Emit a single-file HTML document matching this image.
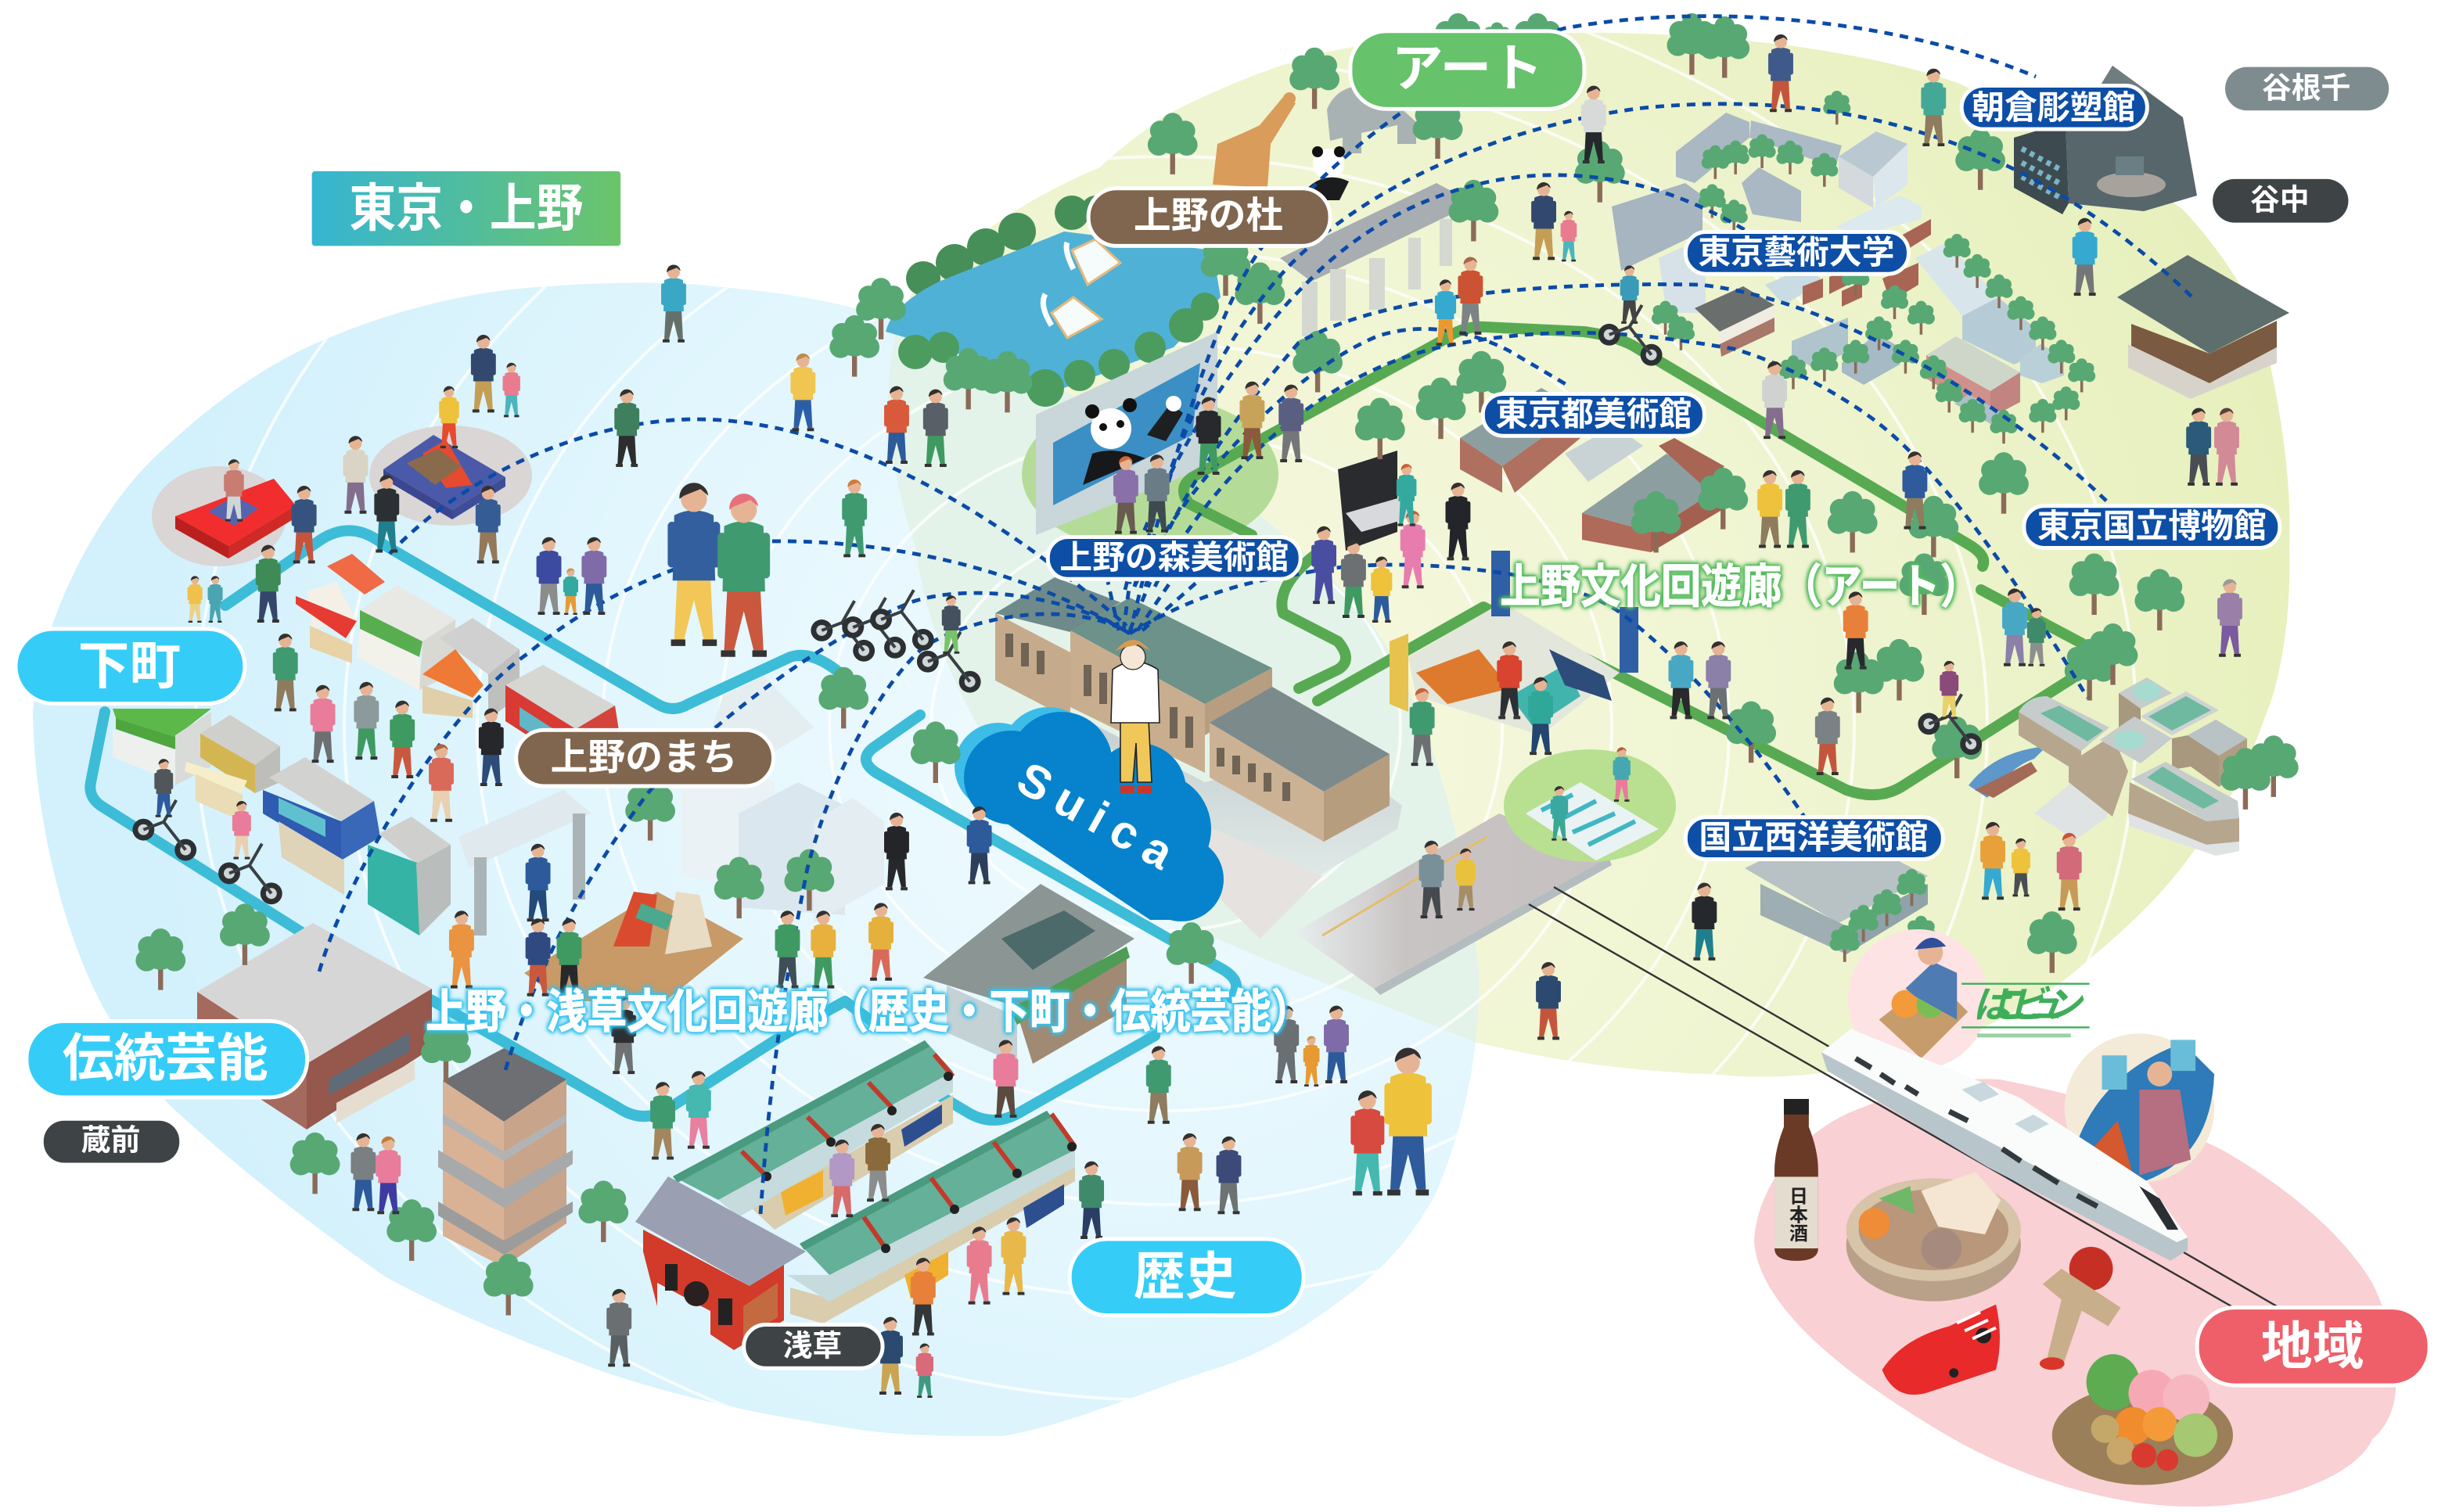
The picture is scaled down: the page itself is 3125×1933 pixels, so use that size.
<!DOCTYPE html>
<html lang="ja"><head><meta charset="utf-8"><title>東京・上野</title>
<style>
html,body{margin:0;padding:0;background:#fff;width:3125px;height:1933px;overflow:hidden}
svg{display:block}
text{font-family:"Liberation Sans","Noto Sans CJK JP",sans-serif;font-weight:700;text-anchor:middle;dominant-baseline:central;fill:#fff}
.dash{fill:none;stroke:#0b4ba8;stroke-width:2.4;stroke-dasharray:5.5 4.5}
.rt{fill:none;stroke:#3dbcd8;stroke-width:7;stroke-linejoin:round;stroke-linecap:round}
.gr{fill:none;stroke:#58aa52;stroke-width:7;stroke-linejoin:round;stroke-linecap:round}
.pill{stroke:#fff;stroke-width:2.5}
.arc{fill:none;stroke:#fff;stroke-width:2;opacity:.75}
.pb{fill:var(--b)}.pl{fill:var(--l)}.ph{fill:var(--h,#33312f)}
</style></head><body>
<svg xmlns="http://www.w3.org/2000/svg" width="3125" height="1933" viewBox="0 0 1562.5 966.5">
<defs>
<linearGradient id="tg" x1="0" x2="1"><stop offset="0" stop-color="#35b5d2"/><stop offset="1" stop-color="#6cc46a"/></linearGradient>
<radialGradient id="bg" gradientUnits="userSpaceOnUse" cx="720" cy="480" r="620"><stop offset="0" stop-color="#f0fbfe"/><stop offset=".55" stop-color="#e2f6fd"/><stop offset="1" stop-color="#d3f1fc"/></radialGradient>
<radialGradient id="gg" gradientUnits="userSpaceOnUse" cx="800" cy="470" r="680"><stop offset="0" stop-color="#f6f8df"/><stop offset=".6" stop-color="#eef4cf"/><stop offset="1" stop-color="#e7f0bd"/></radialGradient>
<linearGradient id="wk" x1="0" x2="1" y1="0" y2="0"><stop offset="0" stop-color="#e8eeee"/><stop offset=".35" stop-color="#c9c4c4"/><stop offset="1" stop-color="#c6c0c0"/></linearGradient>
<linearGradient id="stn" x1="0" x2="0" y1="0" y2="1"><stop offset="0" stop-color="#bfc7cb"/><stop offset="1" stop-color="#e4eeea"/></linearGradient>
<path id="blueP" d="M21,456C25,400 60,330 98,293C135,258 170,232 210,216C260,195 310,185 351,183C390,180 430,180 456,183C490,186 520,190 550,198C650,225 790,300 870,390C910,440 935,530 945,620C947,680 930,735 917,764C900,795 880,815 853,834C825,855 800,868 773,876C730,890 680,912 640,918C610,918 580,918 550,914C490,905 440,895 386,877C340,860 290,840 246,816C195,780 150,745 109,707C92,690 80,670 70,651C40,600 22,520 21,456Z"/>
<path id="greenP" d="M582,189C620,150 660,125 703,107C715,95 730,85 741,76C770,60 800,48 830,38C870,25 950,21 1000,21C1050,20 1100,24 1143,29C1185,35 1220,42 1251,53C1300,75 1350,100 1395,134C1415,155 1432,180 1445,207C1455,250 1465,300 1463,351C1464,385 1460,420 1452,446C1445,465 1438,485 1430,500C1420,520 1405,540 1393,556C1370,585 1345,605 1321,625C1280,655 1240,670 1200,680C1160,688 1130,690 1099,687C1050,685 1000,680 942,666C880,640 820,620 767,595C710,560 660,520 630,473C605,430 590,390 585,350C565,290 560,230 582,189Z"/>
<clipPath id="cb"><use href="#blueP"/></clipPath>
<clipPath id="cu"><use href="#blueP"/><use href="#greenP"/></clipPath>
<g id="t"><rect x="-1.6" y="-20" width="3.2" height="20" fill="#8a6b58"/><g fill="#58a874"><circle cx="0" cy="-24" r="11"/><circle cx="-9" cy="-19" r="7"/><circle cx="9" cy="-19" r="7"/><circle cx="0" cy="-33" r="6.5"/><circle cx="-8" cy="-28" r="6.5"/><circle cx="8" cy="-28" r="6.5"/></g></g>
<g id="p"><path class="pl" d="M-5,-22L5,-22L6,-2L3,-2L0,-14L-3,-2L-6,-2Z"/><path class="pb" d="M-6,-40Q0,-43 6,-40L6.5,-20L-6.5,-20Z"/><rect x="-8" y="-38" width="2.6" height="14" rx="1.3" class="pb"/><rect x="5.4" y="-38" width="2.6" height="14" rx="1.3" class="pb"/><circle cx="0" cy="-45" r="4" fill="#e6b494"/><path class="ph" d="M-4.4,-45A4.4,4.4 0 0 1 4.4,-46L2,-48L-3,-46Z"/><path d="M-7,0h4.4v-2h-4.4zM2.6,0h4.4v-2h-4.4z" fill="#333"/></g>
<g id="bike"><circle cx="-13" cy="-7" r="7" fill="#2d3033"/><circle cx="-13" cy="-7" r="3.5" fill="#cfd6d8"/><circle cx="14" cy="6" r="7" fill="#2d3033"/><circle cx="14" cy="6" r="3.5" fill="#cfd6d8"/><path d="M-13,-7L0,-12L14,6M0,-12L8,-26" stroke="#3a3f44" stroke-width="2" fill="none"/></g>
</defs>

<!-- base areas -->
<path d="M1121,794C1122,760 1150,722 1190,708C1220,695 1250,688 1278,690C1330,700 1380,715 1420,735C1455,755 1495,785 1516,820C1528,845 1534,870 1531,888C1530,905 1522,915 1516,920C1505,945 1450,964 1400,963C1350,963 1290,945 1240,915C1190,885 1125,840 1121,794Z" fill="#f9d0d4"/>
<use href="#greenP" fill="url(#gg)"/>
<use href="#blueP" fill="url(#bg)"/>
<g clip-path="url(#cb)"><use href="#greenP" fill="#e3f3ea"/></g>
<g clip-path="url(#cu)">
<ellipse class="arc" cx="745" cy="465" rx="150" ry="130"/><ellipse class="arc" cx="745" cy="465" rx="215" ry="190"/><ellipse class="arc" cx="745" cy="465" rx="285" ry="245"/><ellipse class="arc" cx="745" cy="465" rx="360" ry="305"/><ellipse class="arc" cx="745" cy="465" rx="440" ry="365"/><ellipse class="arc" cx="745" cy="465" rx="525" ry="430"/><ellipse class="arc" cx="745" cy="462" rx="620" ry="490"/>
</g>

<!-- pond & hedges -->
<g fill="#468f58"><circle cx="590" cy="178" r="11"/><circle cx="610" cy="168" r="12"/><circle cx="630" cy="158" r="12"/><circle cx="650" cy="148" r="12"/><circle cx="685" cy="136" r="11"/><circle cx="700" cy="134" r="9"/></g>
<path d="M566,212Q570,195 600,180L680,148L775,160L780,190L750,222L680,248L640,235L600,222Z" fill="#50b1d6"/>
<g fill="#4c9c60"><circle cx="585" cy="225" r="11"/><circle cx="603" cy="222" r="10"/><circle cx="668" cy="248" r="12"/><circle cx="690" cy="240" r="10"/><circle cx="712" cy="233" r="10"/><circle cx="735" cy="222" r="10"/><circle cx="758" cy="208" r="11"/><circle cx="770" cy="196" r="9"/></g>
<ellipse cx="735" cy="303" rx="82" ry="50" fill="#b4dc98"/>
<path d="M662,265L778,212L778,296L662,342Z" fill="#c9d6da"/>
<path d="M673,283L767,232L762,278L673,323Z" fill="#3b8fc4"/>
<path d="M692,310L698,290Q712,285 732,293Z" fill="#17181a"/><circle cx="710" cy="274" r="13" fill="#fff"/><circle cx="698" cy="263" r="4.5" fill="#111"/><circle cx="722" cy="259" r="4.5" fill="#111"/><circle cx="705" cy="273" r="2.5" fill="#111"/><circle cx="716" cy="271" r="2.5" fill="#111"/>
<path d="M733,278L748,258L756,264L745,282Z" fill="#1d1f20"/><circle cx="750" cy="258" r="5" fill="#fff"/>
<!-- swans -->
<path d="M685,160L700,153L716,168L695,182Z" fill="#f6fbfb" stroke="#e5b97a" stroke-width="1.5"/><path d="M672,200L686,190L704,204L682,216Z" fill="#f6fbfb" stroke="#e5b97a" stroke-width="1.5"/>
<path d="M686,172Q680,160 682,155" stroke="#fff" stroke-width="3.5" fill="none"/><path d="M672,208Q664,195 668,188" stroke="#fff" stroke-width="3.5" fill="none"/>

<!-- routes -->
<path class="rt" d="M144,387L205,345Q225,332 245,348L420,450Q430,456 440,450L505,420Q520,415 540,433"/>
<path class="rt" d="M588,457L558,478Q548,486 560,494L782,620Q795,628 787,638"/>
<path class="rt" d="M738,662L650,712Q635,720 620,712L600,700"/>
<path class="rt" d="M67,455L58,500Q56,510 66,516L196,598L277,640L395,708Q410,718 425,710L500,662L540,640L560,655"/>
<path class="gr" d="M800,342L760,322Q752,312 762,305L923,217Q935,208 949,209L1012,212Q1035,215 1047,223L1258,348Q1270,355 1267,362"/>
<path class="gr" d="M1266,377L1330,411Q1342,420 1330,430L1215,503Q1200,512 1180,505L948,388L842,448"/>
<path class="gr" d="M840,355Q815,375 820,392L855,410Q865,422 855,428L830,440"/>

<!-- left shops row 1 -->
<path d="M209,362L225,354L246,372L233,380Z" fill="#ef6a45"/><path d="M196,378L215,372L228,397L200,402Z" fill="#f4f0e6"/><path d="M189,381L228,397L221,408L189,386Z" fill="#e63a33"/><path d="M198,400L225,412V424L198,414Z" fill="#e8d2a6"/>
<path d="M230,390L254,374L291,396L270,410Z" fill="#e8e8e5"/><path d="M230,390L270,410L268,420L230,402Z" fill="#58ae4f"/><path d="M230,402L268,420V441L228,420Z" fill="#f3f2ea"/><path d="M270,410L291,396V430L268,441Z" fill="#d9d9d4"/>
<path d="M281,408L302,395L332,415L312,431Z" fill="#cfd0cf"/><path d="M270,431L291,415L309,438L302,446Z" fill="#ef7a36"/><path d="M270,438L302,448V459L270,456Z" fill="#e0cfa8"/><path d="M312,431L332,415V445L312,460Z" fill="#bfbfbd"/>
<path d="M323,438L347,425L393,451L368,466Z" fill="#d6d6d3"/><path d="M323,438L368,466V490L323,461Z" fill="#d93a33"/><path d="M332,452L360,470V482L332,464Z" fill="#60b7c8"/><path d="M368,466L393,451L396,470L368,490Z" fill="#d3443a"/>
<!-- left shops row 2 -->
<path d="M72,453H135L112,471L74,459Z" fill="#5db84a"/><path d="M74,459L112,471V479L74,466Z" fill="#4fa63f"/><path d="M72,466L112,479V500L72,484Z" fill="#eef0ee"/><path d="M112,470L135,455V490L112,502Z" fill="#d8dbd8"/>
<path d="M128,469L147,457L179,477L163,489Z" fill="#cfcfcb"/><path d="M128,469L163,489V507L128,484Z" fill="#d3b552"/><path d="M119,487L158,499L154,507L118,493Z" fill="#f5eecb"/><path d="M125,495L155,508V525L125,512Z" fill="#eadcb4"/><path d="M163,489L179,477V500L163,507Z" fill="#bdbdb9"/>
<path d="M172,497L195,484L239,512L218,525Z" fill="#d2d3d1"/><path d="M168,505L218,525V550L168,520Z" fill="#2f5bb0"/><path d="M178,510L208,524V535L178,520Z" fill="#5fc0cf"/><path d="M218,525L239,512L243,535L218,550Z" fill="#3a68b8"/><path d="M178,525L220,550V572L180,548Z" fill="#dfd3b8"/>
<path d="M242,533L263,522L288,540L266,552Z" fill="#cfd0cd"/><path d="M235,540L268,552V598L235,578Z" fill="#35b3a5"/><path d="M266,552L288,540V578L268,598Z" fill="#b9bdbb"/>
<!-- stages -->
<ellipse cx="140" cy="330" rx="43" ry="32" fill="#dad6d6"/>
<path d="M112,330L175,306L189,323L146,349Z" fill="#f22d2d"/><path d="M112,330L146,349V357L112,338Z" fill="#b9201e"/><path d="M146,349L189,323V331L146,357Z" fill="#cf2a26"/><path d="M133,327L150,317L165,325L150,336Z" fill="#5664ad"/>
<ellipse cx="288" cy="304" rx="52" ry="32" fill="#dad6d6"/>
<path d="M245,300L277,278L323,305L289,326Z" fill="#4a5aa8"/><path d="M245,300L289,326V332L245,306Z" fill="#3a4790"/><path d="M289,326L323,305V311L289,332Z" fill="#3f4d98"/>
<path d="M270,290L285,281L302,310L285,312Z" fill="#e64a2f"/><path d="M260,296L280,287L295,298L278,310Z" fill="#8a6a4d"/>

<!-- gate -->
<path d="M293,535L360,505L378,520L300,555Z" fill="#dfe9ee"/><rect x="366" y="520" width="8" height="55" fill="#aab4b6"/><rect x="303" y="548" width="8" height="50" fill="#aab4b6"/>
<!-- offices -->
<path d="M435,505L465,485L495,500V570L435,560Z" fill="#eaf2f6"/>
<path d="M472,520L510,500L540,515V585L472,580Z" fill="#dbe7ee"/><path d="M520,525L545,510L565,525V565L520,590Z" fill="#e3edf2"/>
<path d="M462,445L488,432L520,465L480,490L455,465Z" fill="#e4eef0"/>
<!-- Noh stage -->
<path d="M335,622L420,570L475,600L425,640L360,640Z" fill="#c79a68"/><path d="M392,605L405,570L420,572L415,605Z" fill="#d94b2c"/><path d="M425,610L432,570L447,572L455,605Z" fill="#e9dcc5"/><path d="M408,582L428,590" stroke="#4aa98f" stroke-width="10"/>
<!-- Traditional shrine -->
<path d="M590,625L665,565L725,600L655,645Z" fill="#8b9694"/><path d="M640,600L680,582L700,595L660,620Z" fill="#4d6a6a"/><path d="M605,630L650,650V680L605,660Z" fill="#c4d2d6"/><path d="M650,648L720,605V645L660,680Z" fill="#a08a74"/><path d="M645,645L720,605L722,612L650,655Z" fill="#4f9c55"/>
<!-- Kuramae museum -->
<path d="M126,634L200,590L276,632L196,680Z" fill="#d6d6d6"/><path d="M126,634L196,680V722L126,676Z" fill="#a46a5d"/><path d="M196,680L276,632V670L196,722Z" fill="#96574c"/><path d="M210,690L262,660V672L210,700Z" fill="#5f6c78"/><path d="M215,705L265,678V690L215,718Z" fill="#e5ded0"/>
<!-- tower -->
<path d="M283,691L322,670L362,690L322,717Z" fill="#6e6f72"/><path d="M283,691L322,717V810L283,790Z" fill="#d9b296"/><path d="M322,717L362,690V782L322,810Z" fill="#c8a48b"/>
<path d="M280,735L322,760L366,735V744L322,772L280,746Z" fill="#a8a9aa"/><path d="M280,768L322,793L366,768V775L322,802L280,777Z" fill="#9c9c9d"/><path d="M283,712L322,736L362,712V717L322,742L283,718Z" fill="#b3b3b4"/>
<!-- Nakamise row 1 -->
<path d="M480,772L609,700V718L495,786Z" fill="#d9cdae"/><path d="M499,762L526,748V765L502,777Z" fill="#f0b030"/><path d="M576,722L602,706V718L578,733Z" fill="#2e4f8f"/>
<path d="M459,767L609,685V698L472,778Z" fill="#c5dbde"/>
<path d="M430,752L591,665L609,685L459,767Z" fill="#64b098"/><path d="M430,752L591,665L594,669L433,756Z" fill="#4a9a7f"/>
<path d="M474,736L490,752M516,714L532,730M555,692L570,708M597,674L609,688" stroke="#c23a2c" stroke-width="3" fill="none"/><circle cx="490" cy="752" r="3" fill="#222"/><circle cx="531" cy="730" r="3" fill="#222"/><circle cx="570" cy="710" r="3" fill="#222"/><circle cx="606" cy="688" r="3" fill="#222"/>
<!-- Nakamise row 2 -->
<path d="M505,823L530,830L687,745V755L526,846L505,840Z" fill="#d9cdae"/><path d="M578,815L606,800V815L582,830Z" fill="#f0b030"/><path d="M654,772L680,757V770L656,785Z" fill="#2e4f8f"/>
<path d="M503,815L530,815L687,735V746L530,832Z" fill="#c5dbde"/>
<path d="M511,795L669,710L687,735L530,815Z" fill="#64b098"/><path d="M511,795L669,710L672,714L514,799Z" fill="#4a9a7f"/>
<path d="M552,778L566,798M595,753L610,773M635,730L650,750M672,712L687,733" stroke="#c23a2c" stroke-width="3" fill="none"/><circle cx="566" cy="798" r="3" fill="#222"/><circle cx="610" cy="773" r="3" fill="#222"/><circle cx="650" cy="750" r="3" fill="#222"/><circle cx="685" cy="733" r="3" fill="#222"/>
<!-- Kaminarimon -->
<path d="M411,786L479,822L501,797V844L469,863L454,853V838L420,820V835L411,800Z" fill="#d23a2a"/><path d="M475,835L497,820V842L475,855Z" fill="#c46a40"/><rect x="425" y="808" width="8" height="17" fill="#222"/><rect x="459" y="830" width="9" height="17" fill="#222"/><circle cx="445" cy="827" r="8" fill="#2a2020"/>
<path d="M406,781L427,752L515,800L479,822Z" fill="#9aa0b2"/>

<!-- station base -->
<path d="M636,430L700,470L764,525L805,582L893,530L896,515L850,480L770,500Z" fill="url(#stn)"/>
<path d="M764,525L845,560L805,600L775,570Z" fill="#e6e2df"/>
<path d="M636,392L684,417V460L636,435Z" fill="#c5ab8c"/><path d="M636,392L674,369L716,385L684,404Z" fill="#6e8a8a"/>
<path d="M684,403L722,382L813,427L770,450Z" fill="#6d928a"/><path d="M684,403L770,450V494L684,452Z" fill="#c8ae8f"/><path d="M770,450L813,427V445L770,470Z" fill="#b89e80"/>
<path d="M773,462L813,439L888,482L846,506Z" fill="#7c8a8c"/><path d="M773,462L846,506V538L773,497Z" fill="#ccb294"/><path d="M846,506L888,482V515L846,538Z" fill="#b59d7e"/>
<path d="M645,405V420M655,411V426M665,416V431M780,478V490M790,483V495M800,488V500M810,494V506M822,500V512M695,425V445M705,430V450M715,435V455M750,452V472M760,458V478" stroke="#6f6455" stroke-width="5"/>
<!-- walkway -->
<path d="M827,596L958,520L1028,548L878,632Z" fill="url(#wk)"/>
<path d="M845,598L950,535" stroke="#e3be6a" stroke-width="1.5"/><path d="M878,632L1028,548L1030,553L882,636Z" fill="#b4bcc0"/>
<!-- rail lines -->
<path d="M993,567L1455,835M977,578L1426,835" stroke="#333" stroke-width="1.2" fill="none"/>

<!-- Suica cloud -->
<g fill="#3dbce8"><circle cx="638" cy="490" r="28"/><circle cx="670" cy="482" r="30"/></g>
<g fill="#0683cc"><circle cx="646" cy="497" r="30"/><circle cx="678" cy="488" r="33"/><circle cx="728" cy="505" r="30"/><circle cx="738" cy="530" r="36"/><circle cx="755" cy="562" r="27"/><path d="M622,512L700,470L770,560L760,588L735,588Z"/></g>
<text x="703" y="523" font-size="30" letter-spacing="7" transform="rotate(29 703 523)" style="font-family:'Liberation Sans',sans-serif">Suica</text>
<!-- character -->
<path d="M716,460L734,460L736,500L727,500L726,475L724,500L716,500Z" fill="#f0c85a" stroke="#222" stroke-width=".8"/>
<path d="M711,428Q725,418 740,428L741,462L710,462Z" fill="#fff" stroke="#222" stroke-width=".8"/>
<circle cx="724" cy="420" r="8" fill="#f6e6d6" stroke="#222" stroke-width=".6"/><path d="M713,416Q724,402 735,416L728,412L718,414Z" fill="#d99a55"/>
<path d="M716,502h9v5h-9zM727,502h9v5h-9z" fill="#c8372d"/>

<!-- Top right: animals & gate -->
<path d="M775,118L778,92Q795,85 805,80L820,62L828,66L812,92L810,120Z" fill="#d99c5a"/><circle cx="824" cy="63" r="4" fill="#d99c5a"/>
<path d="M848,70Q855,52 880,55L905,78V92H893V80L870,85V98H858V88L850,90Z" fill="#a9b2b3"/>
<circle cx="849" cy="105" r="10" fill="#fff"/><path d="M832,124Q845,108 862,116L856,128H838Z" fill="#1b1c1d"/><circle cx="842" cy="97" r="3.5" fill="#111"/><circle cx="856" cy="97" r="3.5" fill="#111"/>
<path d="M818,165L918,117L942,130L838,180Z" fill="#a8adb2"/><path d="M832,180H842V215H832ZM850,172H860V205H850ZM875,165H885V198H875ZM900,152H908V185H900ZM920,140H928V170H920Z" fill="#d4d8d0"/>
<!-- Geidai cluster -->
<path d="M1071,97L1103,72L1118,78V88L1083,117L1071,113Z" fill="#a9b8c3"/>
<path d="M1119,77L1177,93L1173,107L1118,88Z" fill="#abbac5"/>
<path d="M1175,100L1199,84L1219,92L1197,113Z" fill="#bac8d1"/><path d="M1175,100L1197,113V133L1175,120Z" fill="#d3d9dc"/><path d="M1197,113L1219,92V118L1199,133Z" fill="#dbe7ed"/>
<path d="M1113,117L1124,107L1151,122V142L1120,137Z" fill="#a9b8c3"/>
<path d="M1030,132L1077,117L1088,125V148L1036,173Z" fill="#a6b5bf"/>
<path d="M1173,145L1214,125L1228,132V140L1189,150Z" fill="#dce9ef"/>
<path d="M1216,150L1234,140V150L1218,160Z" fill="#a86554"/>
<path d="M1060,165L1075,158L1090,175V200L1065,200Z" fill="#d7e2e8"/>
<path d="M1083,197L1114,183L1134,195L1099,212Z" fill="#6a6f6e"/><path d="M1099,212L1134,195V203L1099,220Z" fill="#efece2"/><path d="M1099,220L1134,203V212L1100,228Z" fill="#a9786a"/>
<path d="M1128,182L1156,170L1165,180L1140,195Z" fill="#c9dbe3"/>
<path d="M1152,183L1165,178V190L1152,195ZM1169,177L1185,170V180L1169,188ZM1177,186L1190,180V190L1177,196ZM1203,178L1226,168V182L1208,193Z" fill="#a86554"/>
<path d="M1224,165L1244,155L1277,190L1254,202Z" fill="#d8e6ec"/><path d="M1254,202L1277,190L1301,210V227L1287,233L1254,217Z" fill="#b5ccd7"/>
<path d="M1291,229L1304,220L1319,228V240L1305,245L1291,240Z" fill="#b9d0d9"/>
<path d="M1231,227L1250,215L1291,238L1272,250Z" fill="#cdd6c8"/><path d="M1231,227L1272,250V267L1231,242Z" fill="#d0918c"/><path d="M1272,250L1291,238V257L1272,267Z" fill="#c28480"/>
<path d="M1249,258L1258,252L1282,265L1274,272Z" fill="#adbfc8"/>
<path d="M1145,218L1181,203V225L1159,235L1145,228Z" fill="#b0c4cd"/><path d="M1177,232L1199,213L1214,222V233L1191,246L1177,238Z" fill="#a5bac4"/>
<!-- Asakura -->
<path d="M1287,88L1320,78L1322,130L1318,137L1287,120Z" fill="#3d4b50"/><path d="M1320,78L1339,60L1350,42L1395,75L1404,125L1370,135L1322,130Z" fill="#56666a"/><path d="M1339,60L1350,42L1372,58L1350,70Z" fill="#6f7d7e"/><path d="M1292,95L1316,108M1292,104L1316,117M1292,113L1316,126" stroke="#7ab4c6" stroke-width="3.5" stroke-dasharray="3 3"/><ellipse cx="1362" cy="118" rx="22" ry="8" fill="#a7a39c"/><path d="M1352,100h18v12h-18z" fill="#6a7f84"/>
<!-- Hall -->
<path d="M1353,190L1398,163L1463,200L1412,226Z" fill="#5e6e6d"/><path d="M1362,207L1412,226L1455,205V222L1412,245L1362,222Z" fill="#7b5a42"/><path d="M1360,220L1412,245L1455,222V232L1400,255L1360,235Z" fill="#d8d3ca"/>
<!-- Tobikan -->
<path d="M933,280L985,248L1010,262L960,298Z" fill="#8d9ea0"/><path d="M933,280L960,298V315L933,300Z" fill="#b0705f"/><path d="M960,298L1010,262V280L968,315Z" fill="#b0705f"/>
<path d="M1011,328L1065,290L1102,310L1055,340Z" fill="#8d9ea0"/><path d="M1011,328L1055,340V353L1011,345Z" fill="#b06a5a"/><path d="M1055,340L1102,310V325L1055,353Z" fill="#a4604f"/><path d="M1060,285L1070,280L1102,298L1090,312Z" fill="#a86554"/>
<path d="M1000,290L1032,272L1050,285L1015,308Z" fill="#c9d3d6"/>
<!-- National Museum -->
<path d="M1258,502Q1275,480 1308,477L1300,485Q1285,490 1270,510Z" fill="#5e97c9"/><path d="M1262,505L1298,487L1302,493L1274,510Z" fill="#a36a58"/>
<path d="M1300,520L1324,500L1348,513L1346,523L1326,537Z" fill="#dfe3e4"/>
<path d="M1290,455Q1296,445 1308,445L1348,465L1330,480L1290,465Z" fill="#c6cccc"/><path d="M1290,455V470L1330,495V480Z" fill="#b7a68e"/><path d="M1304,456L1316,451L1344,467L1334,474Z" fill="#6fb9a0"/>
<path d="M1322,488L1350,470L1360,493L1350,522L1322,500Z" fill="#b7a68e"/>
<path d="M1354,443L1372,433L1388,443L1368,453Z" fill="#c6cccc"/><path d="M1354,443V465L1368,465V453Z" fill="#a8987e"/><ellipse cx="1372" cy="442" rx="9" ry="6" fill="#a6dccf"/>
<path d="M1342,473L1364,458L1388,472L1368,488Z" fill="#c6cccc"/><ellipse cx="1361" cy="473" rx="10" ry="6" fill="#a6dccf"/>
<path d="M1368,458L1397,442L1418,454L1388,470Z" fill="#cdd2d2"/><path d="M1373,458L1397,445L1413,454L1388,467Z" fill="#6fb9a0"/>
<path d="M1388,472L1398,470L1418,483V503L1400,490L1388,492Z" fill="#a8987e"/><path d="M1398,470L1416,460L1436,472L1418,483Z" fill="#b9c2c4"/><path d="M1418,483L1436,472V492L1418,503Z" fill="#b09e84"/>
<path d="M1362,498L1384,487L1430,512L1431,523L1410,525Z" fill="#c6cccc"/><path d="M1372,497L1382,490L1418,512L1408,517Z" fill="#6fb9a0"/><path d="M1361,500L1410,525L1431,523V538L1410,540L1360,520Z" fill="#b7a68e"/><path d="M1360,520L1410,540L1431,538V544L1416,547L1361,528Z" fill="#dfe3e4"/>
<!-- Western Art -->
<path d="M1115,555L1170,528L1232,560L1175,590Z" fill="#b8c1c4"/><path d="M1125,565L1180,592V610L1125,585Z" fill="#9eaeb2"/><path d="M1180,592L1232,565V578L1180,610Z" fill="#8fa3a8"/>

<!-- piano -->
<path d="M855,300L893,288V340L860,352Z" fill="#2a2b2e"/><path d="M860,328L895,318L905,330L870,340Z" fill="#d7d9dc"/>
<!-- market -->
<path d="M900,420L960,385L1035,430L985,470L905,445Z" fill="#e3e6da"/><path d="M905,430L945,415L965,440L925,450Z" fill="#dd7a2e"/><path d="M965,445L1000,425L1010,445L980,465Z" fill="#42b4ae"/><path d="M990,415L1025,432L1030,448L1000,438Z" fill="#2e4c7a"/><path d="M888,410L900,405V455L888,450Z" fill="#e7c24e"/><rect x="953" y="352" width="12" height="42" fill="#2f5fa5"/><rect x="1035" y="388" width="12" height="42" fill="#2f5fa5"/>
<!-- picnic -->
<ellipse cx="1016" cy="515" rx="55" ry="36" fill="#b8e090"/><path d="M975,520L1010,500L1060,530L1020,550Z" fill="#e9f3f4"/><path d="M985,518L1005,508M995,525L1020,512M1005,532L1032,520M1015,540L1045,525" stroke="#41b6c4" stroke-width="3"/>

<!-- overlay trees behind dashes -->
<g transform="scale(.9965,.995)">
<use href="#t" x="935" y="48"/><use href="#t" transform="translate(960,38) scale(.6)"/><use href="#t" x="986" y="48"/>
<use href="#t" x="103" y="636"/><use href="#t" x="157" y="620"/><use href="#t" x="202" y="767"/><use href="#t" x="264" y="810"/><use href="#t" x="326" y="845"/><use href="#t" x="387" y="798"/><use href="#t" x="286" y="695"/>
<use href="#t" x="417" y="540"/><use href="#t" x="474" y="590"/><use href="#t" x="519" y="585"/><use href="#t" x="541" y="468"/><use href="#t" x="600" y="503"/><use href="#t" x="764" y="632"/>
<use href="#t" x="548" y="242"/><use href="#t" x="565" y="218"/><use href="#t" x="621" y="263"/><use href="#t" x="646" y="265"/>
<use href="#t" x="843" y="70"/><use href="#t" x="752" y="112"/><use href="#t" x="922" y="102"/><use href="#t" x="786" y="190"/><use href="#t" x="808" y="208"/><use href="#t" x="845" y="252"/><use href="#t" x="945" y="155"/>
<use href="#t" x="924" y="282"/><use href="#t" x="950" y="265"/><use href="#t" x="885" y="295"/><use href="#t" x="1085" y="48"/><use href="#t" x="1106" y="50"/><use href="#t" x="1026" y="130"/>
<use href="#t" x="1270" y="122"/><use href="#t" x="1285" y="330"/><use href="#t" x="1343" y="395"/><use href="#t" x="1385" y="405"/><use href="#t" x="1240" y="358"/><use href="#t" x="1188" y="355"/><use href="#t" x="1105" y="340"/><use href="#t" x="1062" y="355"/><use href="#t" x="1218" y="450"/><use href="#t" x="1192" y="458"/><use href="#t" x="1123" y="490"/><use href="#t" x="1234" y="395"/><use href="#t" x="1340" y="450"/><use href="#t" x="1355" y="440"/><use href="#t" x="1458" y="512"/><use href="#t" x="1440" y="520"/><use href="#t" x="1316" y="625"/><use href="#t" x="1255" y="500"/>
<use href="#t" transform="translate(1232,612) scale(.6)"/><use href="#t" transform="translate(1195,605) scale(.6)"/><use href="#t" transform="translate(1210,595) scale(.6)"/><use href="#t" transform="translate(1226,582) scale(.6)"/><use href="#t" transform="translate(1183,618) scale(.6)"/>
<g id="small">
<use href="#t" transform="translate(1100,115) scale(.55)"/><use href="#t" transform="translate(1113,112) scale(.55)"/><use href="#t" transform="translate(1130,108) scale(.55)"/><use href="#t" transform="translate(1148,112) scale(.55)"/><use href="#t" transform="translate(1170,120) scale(.55)"/><use href="#t" transform="translate(1098,140) scale(.55)"/><use href="#t" transform="translate(1112,150) scale(.55)"/><use href="#t" transform="translate(1178,80) scale(.55)"/>
<use href="#t" transform="translate(1255,172) scale(.55)"/><use href="#t" transform="translate(1268,185) scale(.55)"/><use href="#t" transform="translate(1282,198) scale(.55)"/><use href="#t" transform="translate(1296,212) scale(.55)"/><use href="#t" transform="translate(1310,225) scale(.55)"/><use href="#t" transform="translate(1322,240) scale(.55)"/><use href="#t" transform="translate(1335,252) scale(.55)"/>
<use href="#t" transform="translate(1205,225) scale(.55)"/><use href="#t" transform="translate(1222,240) scale(.55)"/><use href="#t" transform="translate(1240,250) scale(.55)"/><use href="#t" transform="translate(1250,265) scale(.55)"/><use href="#t" transform="translate(1265,278) scale(.55)"/><use href="#t" transform="translate(1285,285) scale(.55)"/><use href="#t" transform="translate(1310,278) scale(.55)"/><use href="#t" transform="translate(1325,270) scale(.55)"/>
<use href="#t" transform="translate(1150,250) scale(.55)"/><use href="#t" transform="translate(1170,245) scale(.55)"/><use href="#t" transform="translate(1190,240) scale(.55)"/><use href="#t" transform="translate(1068,215) scale(.55)"/><use href="#t" transform="translate(1078,225) scale(.55)"/><use href="#t" transform="translate(1190,190) scale(.55)"/><use href="#t" transform="translate(1215,205) scale(.55)"/><use href="#t" transform="translate(1232,215) scale(.55)"/>
</g>
</g>

<!-- dashed arcs -->
<g class="dash">
<path d="M249,354C300,300 380,268 445,268C540,268 640,330 720,400"/>
<path d="M204,621C225,550 290,450 337,418C386,377 440,358 491,346C547,345 640,355 722,405"/>
<path d="M323,684C345,610 382,550 414,507C450,465 526,408 582,385C620,372 684,381 722,405"/>
<path d="M486,776C490,720 495,660 516,555C530,500 560,440 591,413C630,390 690,385 722,405"/>
<path d="M722,405C740,330 770,210 805,160C850,95 940,35 1000,18C1100,0 1220,15 1301,49"/>
<path d="M725,375C745,300 770,230 821,173C870,120 960,80 1050,69C1120,62 1180,70 1222,83C1300,105 1360,150 1402,191"/>
<path d="M719,377C735,310 790,225 837,179C880,135 940,110 1000,112C1040,113 1080,125 1120,150"/>
<path d="M732,375C750,320 790,265 830,219C880,190 980,180 1086,182C1165,190 1273,249 1348,322"/>
<path d="M738,375C770,310 840,240 920,222C1000,205 1060,215 1108,223C1150,235 1190,262 1201,271C1250,310 1300,390 1334,446"/>
<path d="M725,375C750,320 820,240 880,215C910,205 940,212 964,224L1003,247"/>
<path d="M722,405C755,385 790,372 830,367C870,358 920,360 965,367C990,372 1020,380 1036,392C1080,425 1125,480 1155,525"/>
<path d="M722,403L735,372M718,403L722,372M727,403L748,372M715,403L708,372M730,403L765,372"/>
</g>

<g transform="scale(.9965,.995)">
<g>
<use href="#p" x="432" y="220" style="--b:#3aa8c4;--l:#66706b"/>
<use href="#p" x="310" y="265" style="--b:#33486f;--l:#c49e55"/><use href="#p" transform="translate(328,268) scale(.7)" style="--b:#e87c8e;--l:#4bb4bc"/>
<use href="#p" x="402" y="300" style="--b:#3f7f5e;--l:#2d2d2f"/><use href="#p" x="515" y="277" style="--b:#f0c550;--l:#2c5ea8;--h:#c08c4a"/>
<use href="#p" x="228" y="330" style="--b:#d9d4c5;--l:#836e8e"/><use href="#p" x="248" y="355" style="--b:#2c2f33;--l:#1f7f8c"/><use href="#p" x="195" y="362" style="--b:#35537e;--l:#c4553c"/><use href="#p" x="172" y="400" style="--b:#3f8b58;--l:#34476a"/><use href="#p" x="313" y="362" style="--b:#355c94;--l:#93785a"/>
<use href="#p" transform="translate(125,400) scale(.6)" style="--b:#efc14c;--l:#ecd088"/><use href="#p" transform="translate(138,400) scale(.6)" style="--b:#4aa5b0;--l:#4aa5b0"/>
<use href="#p" transform="translate(150,335) scale(.8)" style="--b:#c87c72;--l:#cfd6d6"/><use href="#p" transform="translate(288,288) scale(.8)" style="--b:#efc23c;--l:#e64a2f"/>
<use href="#p" x="352" y="395" style="--b:#3c4aa0;--l:#8a8d8c"/><use href="#p" x="381" y="395" style="--b:#7e6ba8;--l:#2c5a9a"/><use href="#p" transform="translate(366,395) scale(.6)" style="--b:#34a9a0;--l:#e79a33;--h:#c7955a"/>
<use href="#p" transform="translate(445,415) scale(2.1)" style="--b:#345f9e;--l:#f2c758"/><use href="#p" transform="translate(477,422) scale(2.1)" style="--b:#3f9a70;--l:#c9583e;--h:#e8707d"/>
<use href="#p" x="548" y="358" style="--b:#3f9a70;--l:#3f9a70;--h:#d37a3a"/><use href="#p" x="575" y="298" style="--b:#d85a3a;--l:#2c5a9a"/><use href="#p" x="600" y="300" style="--b:#585f66;--l:#3f9a62"/>
<use href="#p" x="183" y="457" style="--b:#3f9a70;--l:#8f7b5e"/><use href="#p" x="207" y="490" style="--b:#e87c9a;--l:#6d7072"/><use href="#p" x="235" y="488" style="--b:#8d9a9c;--l:#3f9a62"/><use href="#p" x="258" y="500" style="--b:#3f9a62;--l:#c9583e"/><use href="#p" x="283" y="528" style="--b:#d96a5a;--l:#e8d0b0;--h:#b5603a"/><use href="#p" x="315" y="505" style="--b:#25272a;--l:#2d4a78"/>
<use href="#p" x="345" y="592" style="--b:#2c5a9a;--l:#234a7a"/><use href="#p" x="296" y="635" style="--b:#ea9340;--l:#ea9340"/><use href="#p" x="575" y="572" style="--b:#232528;--l:#26282b"/><use href="#p" x="628" y="568" style="--b:#2c5a9a;--l:#2c3e5c"/><use href="#p" x="565" y="630" style="--b:#e6b03c;--l:#d96a5a"/><use href="#p" x="505" y="635" style="--b:#3f9a62;--l:#3f4e58"/><use href="#p" x="528" y="635" style="--b:#e8b03c;--l:#3f9a62"/>
<use href="#p" x="400" y="690" style="--b:#2d3033;--l:#6e7272"/><use href="#p" x="345" y="640" style="--b:#2f4a80;--l:#c9583e"/><use href="#p" x="365" y="640" style="--b:#3f9a62;--l:#26282b"/><use href="#p" x="425" y="745" style="--b:#3f9a70;--l:#a3865e"/><use href="#p" x="448" y="738" style="--b:#45b8b0;--l:#e880a0"/><use href="#p" x="645" y="718" style="--b:#e87c9a;--l:#5a4a40"/><use href="#p" x="743" y="722" style="--b:#3f9a70;--l:#8f7b5e"/>
<use href="#p" x="825" y="696" style="--b:#6a6f72;--l:#6a6f72"/><use href="#p" x="857" y="696" style="--b:#7e6ba8;--l:#2c5a9a"/><use href="#p" transform="translate(841,698) scale(.65)" style="--b:#e79a33;--l:#e79a33;--h:#c7955a"/>
<use href="#p" transform="translate(877,768) scale(1.35)" style="--b:#d64a3f;--l:#45b8b0"/><use href="#p" transform="translate(903,768) scale(1.9)" style="--b:#efc23c;--l:#2f5a9c"/>
<use href="#p" x="763" y="778" style="--b:#c79a5a;--l:#8a5a3a"/><use href="#p" x="788" y="780" style="--b:#3c4a7a;--l:#6e7272"/><use href="#p" x="700" y="796" style="--b:#3f8a6a;--l:#2a3d64"/>
<use href="#p" x="233" y="778" style="--b:#7a7f82;--l:#2c5a9a"/><use href="#p" x="249" y="780" style="--b:#e87c9a;--l:#3f3aa0;--h:#c47a3a"/><use href="#p" x="397" y="878" style="--b:#6a6f72;--l:#5a5f62"/>
<use href="#p" x="628" y="838" style="--b:#e87c8e;--l:#e87c8e"/><use href="#p" x="650" y="832" style="--b:#e9b84a;--l:#e9b84a"/><use href="#p" x="592" y="858" style="--b:#e8803a;--l:#33373a"/><use href="#p" x="571" y="896" style="--b:#2c4a70;--l:#c9a455"/><use href="#p" transform="translate(593,898) scale(.7)" style="--b:#d86a7a;--l:#3f9a80"/><use href="#p" x="540" y="782" style="--b:#b298c4;--l:#d86a6a"/><use href="#p" x="563" y="772" style="--b:#8a6a3a;--l:#8a8d8c"/>
<use href="#p" x="993" y="668" style="--b:#2c4a70;--l:#c4553c"/>
<use href="#p" x="1022" y="105" style="--b:#d7dad8;--l:#25282b"/><use href="#p" x="1142" y="72" style="--b:#3f5a8a;--l:#c4553c"/><use href="#p" x="1240" y="94" style="--b:#45a896;--l:#8f7b5e"/>
<use href="#p" x="990" y="167" style="--b:#33486f;--l:#c49e55"/><use href="#p" transform="translate(1006,168) scale(.65)" style="--b:#e87c8e;--l:#4bb4bc"/><use href="#p" transform="translate(927,222) scale(.85)" style="--b:#35a9cf;--l:#e89a30"/><use href="#p" x="943" y="215" style="--b:#cb5232;--l:#7d8284;--h:#a7694a"/>
<use href="#p" x="803" y="295" style="--b:#c7a35a;--l:#8a5a3a"/><use href="#p" x="828" y="297" style="--b:#5a5f82;--l:#737779"/><use href="#p" x="775" y="305" style="--b:#27292c;--l:#3f9a62"/><use href="#p" x="722" y="343" style="--b:#8a70a8;--l:#6a5a50;--h:#cf6a3a"/><use href="#p" x="742" y="342" style="--b:#6a7d86;--l:#3e4a50"/>
<use href="#p" x="849" y="388" style="--b:#4a4ea0;--l:#4a4ea0"/><use href="#p" x="868" y="397" style="--b:#6d7072;--l:#3f9a62"/><use href="#p" transform="translate(886,400) scale(.85)" style="--b:#efc23c;--l:#2c5a9a"/><use href="#p" x="906" y="378" style="--b:#e87cae;--l:#e87cae;--h:#b5603a"/><use href="#p" x="935" y="360" style="--b:#23252a;--l:#23252a"/><use href="#p" transform="translate(902,338) scale(.8)" style="--b:#34a9a0;--l:#34a9a0;--h:#c8603a"/>
<use href="#p" x="1138" y="282" style="--b:#cfd2ce;--l:#836e8e"/><use href="#p" x="1135" y="352" style="--b:#efc23c;--l:#8f7b5e"/><use href="#p" x="1153" y="352" style="--b:#3f9a70;--l:#3f9a70"/><use href="#p" x="1228" y="340" style="--b:#2f5a9c;--l:#8f7b5e"/><use href="#p" x="1337" y="190" style="--b:#35a9cf;--l:#737779"/><use href="#p" x="1410" y="312" style="--b:#2c5a7a;--l:#4a4e52"/><use href="#p" x="1428" y="312" style="--b:#d28a96;--l:#d28a96;--h:#5a4038"/><use href="#p" x="1430" y="422" style="--b:#9a80a8;--l:#7a5aa0;--h:#9a9a9a"/>
<use href="#p" x="1190" y="430" style="--b:#e8803a;--l:#27292c"/><use href="#p" x="1292" y="428" style="--b:#48a8c4;--l:#8a80a8"/><use href="#p" transform="translate(1306,428) scale(.75)" style="--b:#3f8a6a;--l:#8d8f8f"/><use href="#p" x="1078" y="462" style="--b:#48a8c4;--l:#27292c"/><use href="#p" x="1102" y="462" style="--b:#8a80a8;--l:#6d7072"/><use href="#p" x="1172" y="498" style="--b:#7a8286;--l:#c4553c"/><use href="#p" x="1278" y="578" style="--b:#e8a03a;--l:#35a9cf"/><use href="#p" transform="translate(1296,576) scale(.75)" style="--b:#efc23c;--l:#4a4e52"/><use href="#p" x="1327" y="585" style="--b:#d26a7a;--l:#c79a5a;--h:#c4553c"/>
<use href="#p" x="918" y="590" style="--b:#7a9098;--l:#444a4e"/><use href="#p" transform="translate(940,585) scale(.8)" style="--b:#e8c23c;--l:#a58d66"/><use href="#p" x="1093" y="617" style="--b:#26292c;--l:#1f7f8c"/><use href="#p" x="912" y="492" style="--b:#3f9a70;--l:#6d7072;--h:#c8603a"/><use href="#p" x="968" y="462" style="--b:#d8442f;--l:#2d3033"/><use href="#p" x="988" y="485" style="--b:#2fa89a;--l:#23456e"/>
<use href="#p" transform="translate(1000,540) scale(.7)" style="--b:#3aa8a0;--l:#3aa890"/><use href="#p" transform="translate(1040,515) scale(.7)" style="--b:#45a8b0;--l:#e87c9a;--h:#b5603a"/>
</g>
<use href="#bike" x="105" y="540"/><use href="#p" transform="translate(105,525) scale(.75)" style="--b:#50565a;--l:#2f5a9c"/>
<use href="#bike" x="160" y="568"/><use href="#p" transform="translate(155,552) scale(.75)" style="--b:#e87c9a;--l:#e8d0b0"/>
<use href="#bike" x="1045" y="222"/><use href="#p" transform="translate(1045,208) scale(.75)" style="--b:#3a9bb8;--l:#444"/>
<use href="#bike" x="1250" y="472"/><use href="#p" transform="translate(1250,462) scale(.75)" style="--b:#8a4a7a;--l:#e8d06a"/>
<use href="#bike" x="608" y="432"/><use href="#p" transform="translate(610,420) scale(.75)" style="--b:#44505e;--l:#78c26a"/>
<use href="#bike" x="540" y="412"/><use href="#bike" x="560" y="410"/><use href="#bike" x="578" y="405"/>

<!-- train & extras -->
<circle cx="1230" cy="642" r="45" fill="#fde3e3"/>
<path d="M1205,655L1240,628L1262,650L1232,680Z" fill="#c69c6a"/><circle cx="1222" cy="645" r="9" fill="#f39a3a"/><circle cx="1238" cy="645" r="9" fill="#7bbd55"/><path d="M1222,635L1240,618L1255,625L1255,655L1228,640Z" fill="#4f7bb3"/><circle cx="1238" cy="612" r="8" fill="#e6b494"/><path d="M1228,610Q1238,596 1248,608Z" fill="#2f4f9a"/>
<circle cx="1372" cy="712" r="48" fill="#f3ead8"/><path d="M1330,740Q1345,690 1400,670L1420,690Q1418,745 1372,760Q1345,760 1330,740Z" fill="#2f7ab8"/><circle cx="1385" cy="690" r="8" fill="#e6b494"/><path d="M1372,700L1398,700L1405,745L1372,755Z" fill="#b56f80"/><path d="M1340,740L1358,720L1368,755L1350,760Z" fill="#d4592e"/><path d="M1348,678h16v22h-16zM1392,668h16v20h-16z" fill="#6abdd8"/>
<path d="M1168,676L1187,661L1295,705L1377,759L1403,795L1396,806L1275,741Z" fill="#fafbfb"/>
<path d="M1168,676L1275,733L1396,798L1403,795V803L1392,810L1275,750L1172,688Z" fill="#b8c6cb"/>
<path d="M1190,680L1200,686M1206,690L1215,696M1222,698L1230,703M1250,714L1262,720M1284,738L1296,746M1304,750L1320,760M1332,768L1345,775" stroke="#333a3e" stroke-width="3.5" fill="none"/>
<path d="M1372,762L1385,770L1397,790L1390,790Z" fill="#2b2f33"/><path d="M1258,700l14,-5l10,8l-12,5z" fill="#c9d8de"/><path d="M1292,722l12,-6l10,6l-12,6z" fill="#c9d8de"/>
<!-- sake -->
<path d="M1144,706h16v18q6,15 6,28v50q0,8 -14,8t-14,-8v-50q0,-13 6,-28z" fill="#6a3a26"/><rect x="1138" y="756" width="28" height="46" fill="#e4ddcf"/><rect x="1144" y="706" width="16" height="10" fill="#222"/>
<text x="1152" y="780" font-size="12" style="fill:#222;writing-mode:vertical-rl;letter-spacing:0">日本酒</text>
<!-- nabe -->
<ellipse cx="1240" cy="800" rx="56" ry="36" fill="#b8a188"/><ellipse cx="1240" cy="790" rx="56" ry="33" fill="#d8c4a8"/><ellipse cx="1240" cy="790" rx="48" ry="26" fill="#b8977a"/><circle cx="1202" cy="786" r="10" fill="#ee8c38"/><path d="M1232,765l35,-12l16,18l-10,22l-30,-5z" fill="#f4e6d2"/><circle cx="1245" cy="802" r="13" fill="#a68a7e"/><path d="M1205,770l20,-8l3,18z" fill="#6fb86a"/>
<!-- kendama -->
<circle cx="1341" cy="815" r="14" fill="#c63024"/><path d="M1310,825L1322,815L1360,840L1352,852L1335,842L1322,880L1312,876L1322,835Z" fill="#c8ae8a"/><ellipse cx="1316" cy="876" rx="8" ry="4" fill="#d8362a"/>
<!-- akabeko -->
<path d="M1207,880Q1220,860 1250,852L1280,838Q1285,860 1280,880L1250,890L1235,895Q1215,900 1207,880Z" fill="#e82a2a"/><circle cx="1272" cy="858" r="5" fill="#222"/><circle cx="1253" cy="882" r="3" fill="#222"/><path d="M1255,850l15,-7M1260,855l15,-7M1265,860l15,-7" stroke="#fff" stroke-width="2"/>
<!-- fruit -->
<ellipse cx="1374" cy="922" rx="58" ry="32" fill="#9b7f58"/><ellipse cx="1355" cy="888" rx="17" ry="18" fill="#5dac52"/><circle cx="1380" cy="895" r="15" fill="#f6a9b4"/><circle cx="1402" cy="898" r="15" fill="#f6b7c0"/><circle cx="1368" cy="916" r="12" fill="#f08c2e"/><circle cx="1385" cy="915" r="11" fill="#f49a38"/><circle cx="1408" cy="922" r="14" fill="#a6c872"/><circle cx="1350" cy="918" r="9" fill="#c4a86a"/><circle cx="1360" cy="932" r="9" fill="#c9a66a"/><circle cx="1375" cy="935" r="8" fill="#d83a30"/><circle cx="1390" cy="938" r="7" fill="#d83a30"/>
<!-- logo -->
<text x="1300" y="646" font-size="24" style="fill:#3fae5a;font-style:italic" textLength="70">はこビュン</text>
<path d="M1258,632L1340,632M1258,660L1340,660" stroke="#3fae5a" stroke-width="1.2"/><rect x="1268" y="664" width="60" height="2.5" fill="#9ad2a6"/>

<!-- labels -->
<rect x="200" y="110" width="198" height="48" fill="url(#tg)" rx="2"/><text x="299" y="134" font-size="33" textLength="150" lengthAdjust="spacingAndGlyphs">東京・上野</text>
<rect class="pill" x="866" y="20" width="150" height="50" rx="23" fill="#66c26b"/><text x="941" y="44" font-size="33">アート</text>
<rect class="pill" x="698" y="121" width="155" height="37" rx="18" fill="#80664e"/><text x="775" y="139" font-size="24">上野の杜</text>
<rect class="pill" x="331" y="469" width="165" height="36" rx="18" fill="#80664e"/><text x="413" y="487" font-size="24">上野のまち</text>
<rect class="pill" x="1258" y="55" width="119" height="28" rx="14" fill="#0d4ea6"/><text x="1317" y="69" font-size="21">朝倉彫塑館</text>
<rect class="pill" x="1081" y="149" width="143" height="27" rx="13" fill="#0d4ea6"/><text x="1152" y="162" font-size="21">東京藝術大学</text>
<rect class="pill" x="951" y="253" width="142" height="27" rx="13" fill="#0d4ea6"/><text x="1022" y="266" font-size="21">東京都美術館</text>
<rect class="pill" x="1298" y="325" width="164" height="27" rx="13" fill="#0d4ea6"/><text x="1380" y="338" font-size="21">東京国立博物館</text>
<rect class="pill" x="672" y="345" width="162" height="27" rx="13" fill="#0d4ea6"/><text x="753" y="358" font-size="21">上野の森美術館</text>
<rect class="pill" x="1081" y="525" width="165" height="27" rx="13" fill="#0d4ea6"/><text x="1163" y="538" font-size="21">国立西洋美術館</text>
<rect x="1427" y="43" width="105" height="28" rx="14" fill="#7f8c8f"/><text x="1479" y="57" font-size="19">谷根千</text>
<rect x="1419" y="115" width="87" height="28" rx="14" fill="#3e4346"/><text x="1462" y="129" font-size="19">谷中</text>
<rect x="28" y="720" width="87" height="27" rx="13" fill="#3e4346"/><text x="71" y="733" font-size="19">蔵前</text>
<rect class="pill" x="477" y="851" width="89" height="28" rx="14" fill="#3e4346"/><text x="521" y="865" font-size="19">浅草</text>
<rect class="pill" x="10" y="404" width="147" height="48" rx="24" fill="#35cdf7"/><text x="83" y="428" font-size="33">下町</text>
<rect class="pill" x="17" y="656" width="180" height="49" rx="24" fill="#35cdf7"/><text x="106" y="680" font-size="33">伝統芸能</text>
<rect class="pill" x="686" y="796" width="150" height="49" rx="24" fill="#35cdf7"/><text x="760" y="820" font-size="33">歴史</text>
<rect class="pill" x="1409" y="840" width="149" height="50" rx="24" fill="#ee5f69"/><text x="1483" y="865" font-size="33">地域</text>
<text x="557" y="650" font-size="30" textLength="568" lengthAdjust="spacingAndGlyphs" style="fill:#fff;stroke:#fff;stroke-width:.5;filter:drop-shadow(0 0 1.2px #35c2ee) drop-shadow(0 0 1.2px #35c2ee) drop-shadow(0 0 .8px #35c2ee)">上野・浅草文化回遊廊（歴史・下町・伝統芸能）</text>
<text x="1116" y="377" font-size="30" textLength="308" lengthAdjust="spacingAndGlyphs" style="fill:#fff;stroke:#fff;stroke-width:.5;filter:drop-shadow(0 0 1.2px #55bb5e) drop-shadow(0 0 1.2px #55bb5e) drop-shadow(0 0 .8px #55bb5e)">上野文化回遊廊（アート）</text>
</g>
</svg>
</body></html>
